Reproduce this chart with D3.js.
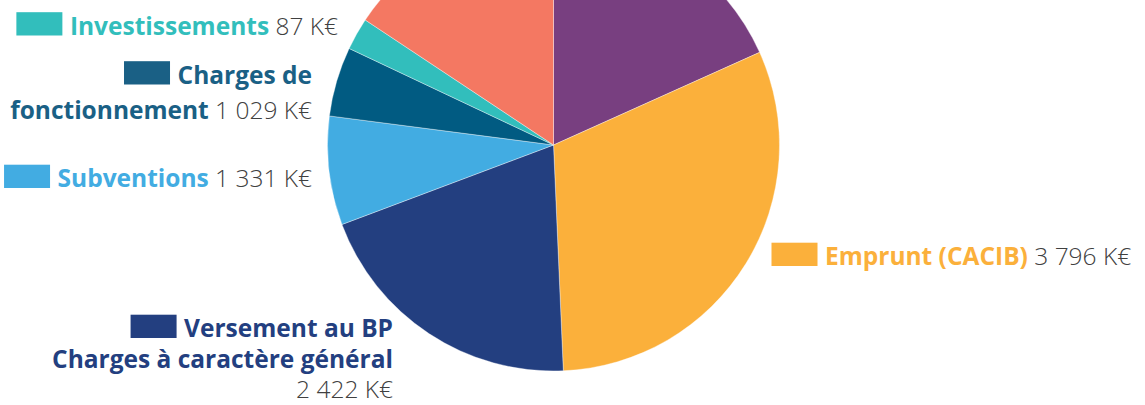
<!DOCTYPE html>
<html>
<head>
<meta charset="utf-8">
<script src="https://cdn.jsdelivr.net/npm/d3@7"></script>
<style>
  html, body { margin: 0; padding: 0; background: #fff; }
  svg { display: block; }
</style>
</head>
<body>
<svg width="1145" height="405"></svg>
<script>
// slices, clockwise from 12 o'clock
var categories = ["", "Emprunt (CACIB)", "Versement au BP Charges à caractère général", "Subventions", "Charges de fonctionnement", "Investissements", ""];
// amounts printed in the labels (K€)
var amounts = [null, 3796, 2422, 1331, 1029, 87, null];
var shares = [2236, 3796, 2443, 951, 608, 282, 1917];
var colors = ["#783f80", "#fbb03b", "#233f80", "#42ace2", "#015b82", "#32bebc", "#f47862"];
var labelColors = [null, "#fbb03b", "#233f80", "#42ace2", "#1a6085", "#32bebc", null];

// label text lines: each line is a list of [text, isName]
var labelLines = {
  1: [[["Emprunt (CACIB)", 1], [" $", 0]]],
  2: [[["Versement au BP", 1]], [["Charges à caractère général", 1]], [["$", 0]]],
  3: [[["Subventions", 1], [" $", 0]]],
  4: [[["Charges de", 1]], [["fonctionnement", 1], [" $", 0]]],
  5: [[["Investissements", 1], [" $", 0]]]
};
var labelPos = {
  1: {x: 825, y: 265, anchor: "start", lh: 32},
  2: {x: 393, y: 337, anchor: "end", lh: 30.6},
  3: {x: 312, y: 187, anchor: "end", lh: 35},
  4: {x: 312, y: 83.5, anchor: "end", lh: 35},
  5: {x: 338, y: 34.5, anchor: "end", lh: 35}
};

var fmt = d3.formatLocale({decimal: ",", thousands: " ", grouping: [3], currency: ["", ""]}).format(",d");

var svg = d3.select("svg");
var cx = 553.5, cy = 145, r = 226;

var pie = d3.pie().sort(null).value(function(d) { return d; });
var arc = d3.arc().innerRadius(0).outerRadius(r);

svg.append("g")
  .attr("transform", "translate(" + cx + "," + cy + ")")
  .selectAll("path")
  .data(pie(shares))
  .enter().append("path")
  .attr("d", arc)
  .attr("fill", function(d, i) { return colors[i]; })
  .attr("stroke", "#fff")
  .attr("stroke-width", 0.6)
  .attr("stroke-opacity", 0.6);

var labels = svg.append("g")
  .attr("font-family", "'Open Sans', 'Noto Sans', sans-serif")
  .attr("font-size", 24.5);

Object.keys(labelLines).forEach(function(k) {
  var i = +k, pos = labelPos[i];
  var g = labels.append("g");
  var first = null;
  labelLines[i].forEach(function(line, li) {
    var t = g.append("text")
      .attr("x", pos.x)
      .attr("y", pos.y + li * pos.lh)
      .attr("text-anchor", pos.anchor);
    line.forEach(function(s) {
      t.append("tspan")
        .attr("font-weight", s[1] ? 700 : 300)
        .attr("fill", s[1] ? labelColors[i] : "#404040")
        .text(s[0].replace("$", fmt(amounts[i]) + " K€"));
    });
    if (li === 0) first = t;
  });
  var w = first.node().getComputedTextLength();
  var start = pos.anchor === "end" ? pos.x - w : pos.x;
  g.insert("rect", "text")
    .attr("x", start - 7.5 - 46)
    .attr("y", pos.y - 22.3)
    .attr("width", 46)
    .attr("height", 23.3)
    .attr("fill", labelColors[i]);
});
</script>
</body>
</html>
